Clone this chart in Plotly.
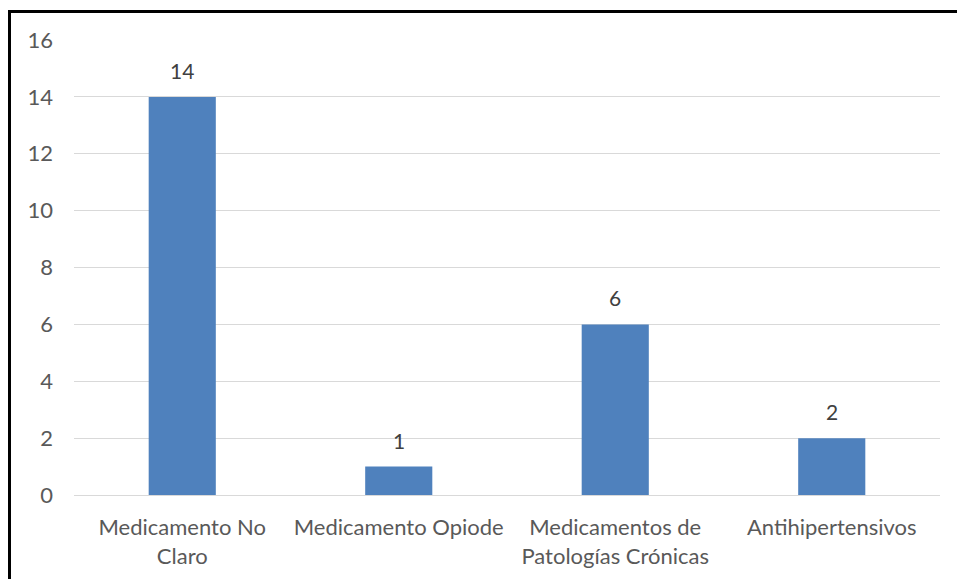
import plotly.graph_objects as go

categories = ["Medicamento No<br>Claro", "Medicamento Opiode", "Medicamentos de<br>Patologías Crónicas", "Antihipertensivos"]
values = [14, 1, 6, 2]
y_ticks = [0, 2, 4, 6, 8, 10, 12, 14, 16]

W, H = 957, 579
L, R, T, B = 74, 17, 40, 84
pw, ph = W - L - R, H - T - B

font_family = "Lato, 'Open Sans', sans-serif"
gray = "#595959"
fs = 22

fig = go.Figure()
fig.add_trace(go.Bar(
    x=categories, y=values, marker=dict(color="#4F81BD", line=dict(width=0)),
    width=0.31, cliponaxis=False,
))
for c, v in zip(categories, values):
    fig.add_annotation(x=c, y=v, text=str(v), showarrow=False, yanchor="bottom",
                       yshift=12, font=dict(family=font_family, size=21, color="#404040"))

def px_x(p):
    return (p - L) / pw

def px_y(p):
    return 1 - (p - T) / ph

fig.update_layout(
    width=W, height=H,
    margin=dict(l=L, r=R, t=T, b=B, autoexpand=False),
    plot_bgcolor="white", paper_bgcolor="white",
    showlegend=False,
    font=dict(family=font_family, size=fs, color=gray),
    xaxis=dict(showgrid=False, showline=True, linecolor="#D9D9D9", linewidth=1,
               automargin=False, ticks="", ticklabelstandoff=13,
               tickfont=dict(size=fs, color=gray)),
    yaxis=dict(range=[0, 16], tickvals=y_ticks, showgrid=True, gridcolor="#D9D9D9",
               gridwidth=1, zeroline=False, ticks="", ticklabelstandoff=20,
               automargin=False, tickfont=dict(size=fs, color=gray)),
    shapes=[
        dict(type="line", xref="paper", yref="paper", x0=px_x(9.5), x1=px_x(9.5),
             y0=px_y(10), y1=px_y(600), line=dict(color="black", width=3)),
        dict(type="line", xref="paper", yref="paper", x0=px_x(8), x1=px_x(1000),
             y0=px_y(11.5), y1=px_y(11.5), line=dict(color="black", width=3)),
    ],
)

fig.write_html("out.html")
